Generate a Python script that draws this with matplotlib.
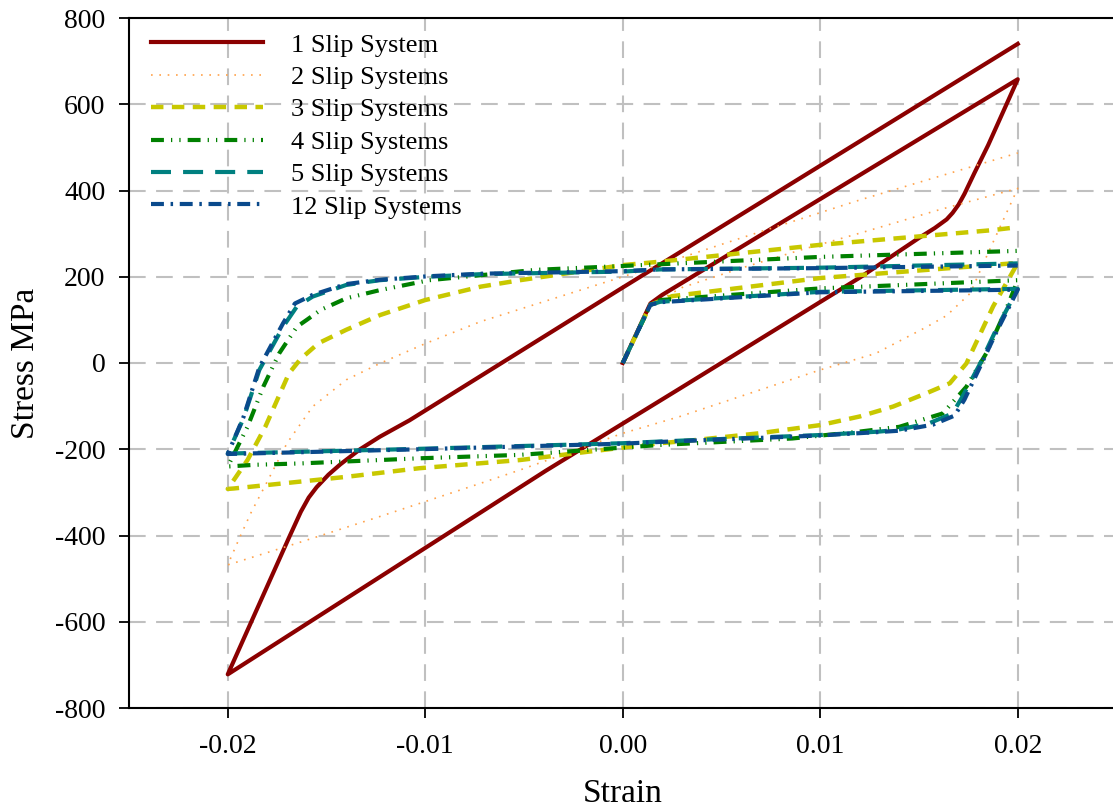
import matplotlib
matplotlib.use("Agg")
import matplotlib.pyplot as plt

plt.rcParams['font.family'] = ['Liberation Serif', 'DejaVu Serif']
plt.rcParams['axes.unicode_minus'] = False

# 1 slip system: initial load, unload to -0.02, reload to 0.02
strain_1 = [0, 0.0014, 0.002, 0.02,
            0.0185, 0.0178, 0.0173, 0.017, 0.0167, 0.0164, 0.0158, 0.015, 0.012, 0.0029, -0.0039, -0.02,
            -0.0169, -0.0163, -0.0159, -0.0155, -0.0149, -0.0143, -0.0133, -0.0123, -0.0108, 0.0, 0.02]
stress_1 = [0, 138, 158, 658,
            505, 440, 392, 367, 348, 333, 313, 290, 198, -59, -250, -722,
            -405, -345, -312, -288, -259, -235, -200, -171, -133, 175, 740]

strain_2 = [0, 0.0014, 0.003, 0.006, 0.009, 0.012, 0.016, 0.02,
            0.0183, 0.0176, 0.0164, 0.0154, 0.0128, 0.01, 0.0029, 0.0, -0.0052, -0.0072, -0.0123, -0.0165, -0.0197, -0.02,
            -0.0194, -0.0188, -0.018, -0.017, -0.0157, -0.014, -0.0123, -0.01, -0.0072, 0.0, 0.006, 0.012, 0.02]
stress_2 = [0, 135, 175, 220, 262, 301, 355, 405,
            235, 162, 110, 84, 22, -16, -124, -163, -248, -279, -356, -418, -464, -468,
            -405, -345, -275, -186, -101, -39, -1, 45, 96, 200, 290, 378, 487]

strain_3 = [0, 0.0014, 0.0025, 0.01, 0.02,
            0.01875, 0.0174, 0.01656, 0.01538, 0.01369, 0.012, 0.01, 0.0069, 0.0036, 0.0019, -0.0018, -0.0052, -0.0103, -0.014, -0.0197, -0.02,
            -0.019, -0.0181, -0.0175, -0.0169, -0.0163, -0.0154, -0.014, -0.0123, -0.01, -0.0072, -0.0052, 0.0, 0.0019, 0.01, 0.0187, 0.02]
stress_3 = [0, 135, 155, 197, 232,
            131, -1, -47, -70, -101, -124, -144, -163, -179, -186, -206, -225, -244, -264, -291, -292,
            -225, -148, -86, -24, 10, 46, 77, 111, 146, 177, 192, 227, 235, 274, 308, 315]

strain_4 = [0, 0.0014, 0.0019, 0.01, 0.02,
            0.0194, 0.0184, 0.0174, 0.0162, 0.014, 0.012, 0.0086, 0.0019, -0.0052, -0.0103, -0.0123, -0.0164, -0.0186, -0.02,
            -0.019, -0.0182, -0.0174, -0.0165, -0.016, -0.0153, -0.014, -0.0123, -0.0098, -0.0044, 0.0, 0.01, 0.02]
stress_4 = [0, 135, 146, 173, 192,
            123, 22, -55, -117, -148, -159, -175, -190, -213, -221, -225, -233, -236, -240,
            -148, -55, 22, 84, 100, 123, 150, 169, 192, 216, 225, 246, 260]

strain_5 = [0, 0.0014, 0.0019, 0.01, 0.02,
            0.0189, 0.0181, 0.0172, 0.0167, 0.0155, 0.0139, 0.013, 0.01, 0.0019, 0.0, -0.0103, -0.0164, -0.02,
            -0.0192, -0.0184, -0.0172, -0.0165, -0.0157, -0.014, -0.0123, -0.0099, -0.0072, 0.0, 0.0019, 0.01, 0.02]
stress_5 = [0, 135, 142, 165, 172,
            77, -1, -78, -117, -140, -155, -159, -167, -182, -186, -199, -206, -210,
            -128, -16, 84, 131, 154, 181, 192, 200, 206, 212, 217, 221, 231]

strain_12 = [0, 0.0014, 0.0019, 0.01, 0.02,
             0.0189, 0.0181, 0.0173, 0.0168, 0.0157, 0.014, 0.013, 0.01, 0.0019, 0.0, -0.0103, -0.0164, -0.02,
             -0.0192, -0.0184, -0.0172, -0.0166, -0.0157, -0.014, -0.0123, -0.0099, -0.0072, 0.0, 0.0019, 0.01, 0.02]
stress_12 = [0, 135, 141, 164, 170,
             70, -8, -85, -122, -143, -157, -160, -168, -183, -187, -200, -207, -211,
             -125, -10, 92, 138, 158, 183, 193, 201, 207, 213, 217, 220, 226]

labels = ['1 Slip System', '2 Slip Systems', '3 Slip Systems',
          '4 Slip Systems', '5 Slip Systems', '12 Slip Systems']

fig = plt.figure(figsize=(11.13, 8.10), dpi=100)
ax = fig.add_axes([129 / 1113, 102 / 810, 987.5 / 1113, 690 / 810])

ax.plot(strain_1, stress_1, color='#8b0000', lw=3, label=labels[0], zorder=3)
ax.plot(strain_2, stress_2, color='#ffa24a', lw=1.2, dashes=(1, 4), label=labels[1], zorder=3)
ax.plot(strain_3, stress_3, color='#c8c800', lw=3.2, dashes=(2.8, 1.9), label=labels[2], zorder=3)
ax.plot(strain_4, stress_4, color='#008000', lw=3, dashes=(3.1, 1.7, 0.3, 1.7, 0.3, 1.7), label=labels[3], zorder=3)
ax.plot(strain_5, stress_5, color='#008080', lw=3, dashes=(4.8, 2.9), label=labels[4], zorder=3)
ax.plot(strain_12, stress_12, color='#0a4a8c', lw=3, dashes=(3.1, 1.6, 0.6, 1.6), label=labels[5], zorder=3)

ax.set_xlim(-0.025, 0.025)
ax.set_ylim(-800, 800)
ax.set_xticks([-0.02, -0.01, 0.0, 0.01, 0.02])
ax.set_xticklabels(['-0.02', '-0.01', '0.00', '0.01', '0.02'])
ax.set_yticks(range(-800, 801, 200))
ax.grid(True, color='#c0c0c0', lw=1.5, dashes=(8, 5))
ax.set_axisbelow(True)

ax.tick_params(direction='out', length=7, width=1.3, labelsize=20, top=False, right=False)
ax.tick_params(axis='x', pad=12)
ax.tick_params(axis='y', pad=10)
for s in ['left', 'bottom', 'top', 'right']:
    ax.spines[s].set_linewidth(1.5)

ax.set_xlabel('Strain', fontsize=24, labelpad=14)
ax.set_ylabel('Stress MPa', fontsize=24, labelpad=10)

ax.legend(loc='upper left', bbox_to_anchor=(0.007, 1.0), frameon=False, fontsize=19,
          handlelength=4.25, labelspacing=0.34, borderaxespad=0.2, borderpad=0.37,
          handletextpad=1.05)

fig.savefig('out.png', dpi=100)
